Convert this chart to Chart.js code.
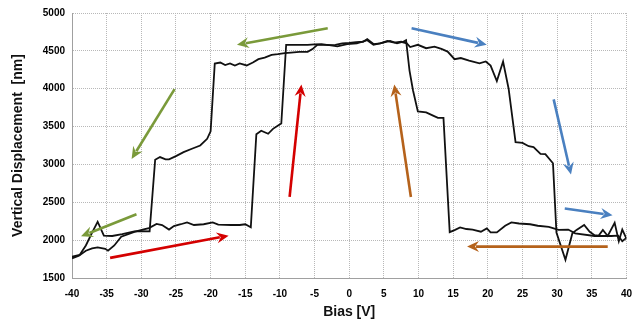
<!DOCTYPE html>
<html>
<head>
<meta charset="utf-8">
<script src="https://cdn.jsdelivr.net/npm/chart.js@4.4.0/dist/chart.umd.min.js"></script>
<style>
html,body{margin:0;padding:0;background:#fff;}
#wrap{width:642px;height:322px;}
</style>
</head>
<body>
<div id="wrap"><canvas id="c" width="642" height="322"></canvas></div>
<script>
// Forward sweep (-40 V -> +40 V)
const fwdX = [-40,-39,-38,-37.1,-36.3,-35.2,-34.8,-33.9,-32.9,-31,-29.8,-28.9,-27.8,-27,-26,-25.3,-24.3,-23.4,-22.4,-21,-19.7,-18.9,-17,-15.8,-15,-14.2,
  -13.4,-12.7,-11.7,-11,-10.1,-9.8,-9.1,-8,-7,-6,-5,-4,-3,-2,-1,0,1,2,2.6,3.5,4.5,5.5,6.5,7.5,8.3,8.8,9.9,11.1,12.3,13.3,14.2,15.2,16.1,17.3,18.8,19.7,20.4,21.3,22.2,23,
  24,25,25.9,26.6,27.6,28.3,29.4,29.9,31.2,32.2,32.8,33.9,34.7,35.4,36,36.6,37.3,38.3,38.9,39.4,40];
const fwdY = [1760,1795,1860,1890,1905,1885,1860,1930,2045,2110,2140,2160,2215,2200,2140,2185,2210,2235,2200,2210,2235,2205,2200,2200,2210,2170,
  3400,3445,3405,3470,3525,3540,4580,4580,4580,4580,4585,4590,4575,4580,4600,4605,4615,4620,4655,4590,4600,4630,4610,4620,4600,4550,4580,4535,4555,4525,4490,4390,4405,4370,4335,4360,4305,4100,4360,4000,
  3295,3285,3240,3230,3140,3135,3015,2100,1740,2090,2135,2200,2110,2065,2060,2135,2055,2230,1985,2140,2020];
// Reverse sweep (+40 V -> -40 V)
const revX = [40,39.4,38.8,37.8,35.4,32.6,31.6,30.2,28.8,27.2,26.1,24.5,23.4,22.5,21.3,20.4,19.85,19,17.8,16.9,16,15.2,14.5,
  13.6,12.8,12.1,11.1,9.9,9.2,8.7,8.2,7.8,6.9,5.9,4.9,3.5,2.6,1.1,-0.3,-1.7,-3.1,-4.6,-5.3,-6,-7.2,-8.4,-9.3,-10.3,-11.2,-12.2,-13.1,-13.9,-14.8,-15.8,-16.5,-17.2,-17.9,-18.6,-19.4,
  -20,-20.5,-21.5,-22.7,-23.9,-25,-26,-26.5,-27.3,-28,-28.8,-30,-31,-32.75,-34.2,-35.4,-36.3,-37.1,-38,-38.9,-40];
const revY = [2030,1985,2060,2055,2055,2090,2140,2135,2175,2190,2210,2220,2234,2190,2103,2103,2155,2111,2138,2147,2168,2133,2105,
  3615,3615,3645,3688,3700,3980,4240,4640,4620,4600,4632,4610,4580,4640,4600,4588,4560,4580,4580,4523,4487,4487,4478,4470,4457,4448,4412,4391,4346,4307,4333,4307,4333,4312,4346,4333,
  3438,3338,3250,3207,3162,3110,3066,3066,3097,3062,2115,2120,2115,2080,2055,2060,2243,2100,1930,1805,1780];
const xTicks = [-40,-35,-30,-25,-20,-15,-10,-5,0,5,10,15,20,25,30,35,40];
const yTicks = [1500,2000,2500,3000,3500,4000,4500,5000];
// Direction arrows in data coordinates [x1,y1,x2,y2]
const arrowsGreen = [[-3.1,4798,-16.2,4580],[-25.2,3995,-31.4,3073],[-30.7,2343,-38.7,2050]];
const arrowsRed = [[-34.5,1766,-17.4,2059],[-8.6,2570,-6.9,4056]];
const arrowsBrown = [[8.9,2570,6.5,4056],[37.3,1915,17.0,1915]];
const arrowsBlue = [[9.0,4798,19.85,4580],[29.5,3859,32.0,2867],[31.1,2417,38.0,2330]];

const toPts = (xs, ys) => xs.map((x, i) => ({x: x, y: ys[i]}));

const arrowPlugin = {
  id: 'arrows',
  afterDatasetsDraw(chart) {
    const {ctx, scales: {x, y}} = chart;
    const groups = [[arrowsGreen, '#7a9a3a'], [arrowsRed, '#d40000'], [arrowsBrown, '#b5621b'], [arrowsBlue, '#4a80c0']];
    ctx.save();
    groups.forEach(([list, col]) => {
      list.forEach(a => {
        const x1 = x.getPixelForValue(a[0]), y1 = y.getPixelForValue(a[1]);
        const x2 = x.getPixelForValue(a[2]), y2 = y.getPixelForValue(a[3]);
        const ang = Math.atan2(y2 - y1, x2 - x1);
        const L = 12, W = 5.5;
        ctx.strokeStyle = col; ctx.fillStyle = col; ctx.lineWidth = 2.6; ctx.lineCap = 'butt';
        ctx.beginPath();
        ctx.moveTo(x1, y1);
        ctx.lineTo(x2 - Math.cos(ang) * (L - 3), y2 - Math.sin(ang) * (L - 3));
        ctx.stroke();
        ctx.beginPath();
        ctx.moveTo(x2, y2);
        ctx.lineTo(x2 - Math.cos(ang) * L - Math.sin(ang) * W, y2 - Math.sin(ang) * L + Math.cos(ang) * W);
        ctx.lineTo(x2 - Math.cos(ang) * (L - 4), y2 - Math.sin(ang) * (L - 4));
        ctx.lineTo(x2 - Math.cos(ang) * L + Math.sin(ang) * W, y2 - Math.sin(ang) * L - Math.cos(ang) * W);
        ctx.closePath();
        ctx.fill();
      });
    });
    ctx.restore();
  }
};

const bgPlugin = {
  id: 'bg',
  beforeDraw(chart) {
    const ctx = chart.ctx;
    ctx.save(); ctx.fillStyle = '#fff'; ctx.fillRect(0, 0, chart.width, chart.height); ctx.restore();
  }
};

new Chart(document.getElementById('c'), {
  type: 'line',
  data: {
    datasets: [
      {data: toPts(fwdX, fwdY), borderColor: '#111', borderWidth: 1.8, pointRadius: 0, tension: 0, fill: false},
      {data: toPts(revX, revY), borderColor: '#111', borderWidth: 1.8, pointRadius: 0, tension: 0, fill: false}
    ]
  },
  options: {
    responsive: false,
    animation: false,
    devicePixelRatio: 1,
    layout: {padding: {left: 0, right: 10, top: 12, bottom: 0}},
    plugins: {legend: {display: false}, tooltip: {enabled: false}},
    scales: {
      x: {
        type: 'linear', min: -40, max: 40,
        afterBuildTicks: s => { s.ticks = xTicks.map(v => ({value: v})); },
        afterFit: s => { s.height = 44; },
        grid: {color: '#b8b8b8', drawTicks: false},
        border: {color: '#a0a0a0', width: 1, dash: [1, 1]},
        ticks: {color: '#000', padding: 10, callback: v => String(v), font: {family: 'Liberation Sans, Arial', size: 10, weight: 'bold'}, maxRotation: 0, autoSkip: false},
        title: {display: true, text: 'Bias [V]', color: '#111', padding: {top: 0, bottom: 1}, font: {family: 'Liberation Sans, Arial', size: 14, weight: 'bold'}}
      },
      y: {
        type: 'linear', min: 1500, max: 5000,
        afterBuildTicks: s => { s.ticks = yTicks.map(v => ({value: v})); },
        afterFit: s => { s.width = 72; },
        grid: {color: '#b8b8b8', drawTicks: false},
        border: {color: '#a0a0a0', width: 1, dash: [1, 1]},
        ticks: {color: '#000', padding: 7, callback: v => String(v), font: {family: 'Liberation Sans, Arial', size: 10, weight: 'bold'}, autoSkip: false},
        title: {display: true, text: 'Vertical Displacement  [nm]', color: '#111', padding: {top: 10, bottom: 0}, font: {family: 'Liberation Sans, Arial', size: 14, weight: 'bold'}}
      }
    }
  },
  plugins: [bgPlugin, arrowPlugin]
});
</script>
</body>
</html>
